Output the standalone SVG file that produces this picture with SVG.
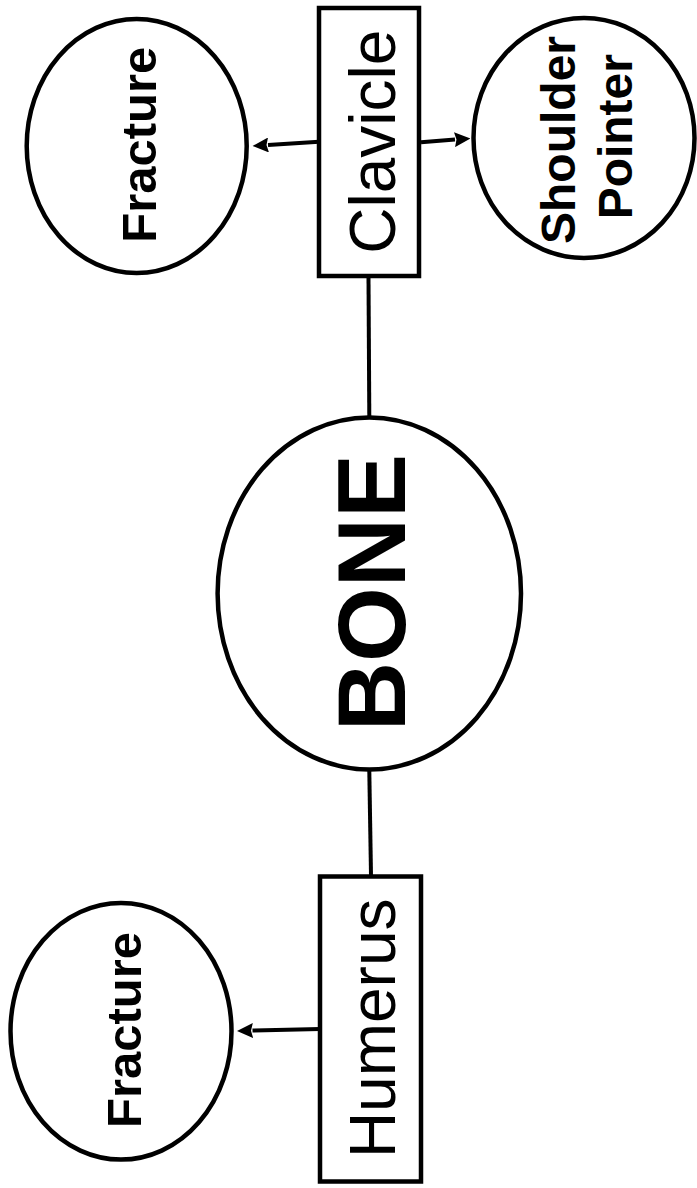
<svg xmlns="http://www.w3.org/2000/svg" width="697" height="1188" viewBox="0 0 697 1188">
  <style>
    .shape { fill: #ffffff; stroke: #000000; stroke-width: 4.5; }
    .conn { fill: none; stroke: #000000; stroke-width: 4; }
    .bold { font-family: "Liberation Sans", Arial, sans-serif; font-weight: bold; fill: #000000; }
    .reg { font-family: "Liberation Sans", Arial, sans-serif; font-weight: normal; fill: #000000; }
  </style>
  <defs>
    <marker id="arrow" viewBox="0 0 16 15" refX="0.5" refY="7.5" markerWidth="16" markerHeight="15" markerUnits="userSpaceOnUse" orient="auto">
      <path d="M0,0 L16,7.5 L0,15 L2,7.5 z" fill="#000000"/>
    </marker>
  </defs>
  <rect x="0" y="0" width="697" height="1188" fill="#ffffff"/>

  <g id="connectors">
    <line class="conn" x1="368.5" y1="278" x2="369.3" y2="416"/>
    <line class="conn" x1="369.3" y1="771" x2="371" y2="875"/>
    <line class="conn" x1="319" y1="141.7" x2="268" y2="145" marker-end="url(#arrow)"/>
    <line class="conn" x1="421" y1="142.2" x2="455" y2="139.6" marker-end="url(#arrow)"/>
    <line class="conn" x1="320" y1="1029" x2="252.5" y2="1030.6" marker-end="url(#arrow)"/>
  </g>

  <g id="node-fracture-top">
    <ellipse class="shape" cx="136.7" cy="146" rx="110" ry="127"/>
    <text class="bold" font-size="49" text-anchor="middle" transform="translate(156,144.7) rotate(-90)">Fracture</text>
  </g>

  <g id="node-clavicle">
    <rect class="shape" x="319" y="8" width="100" height="268"/>
    <text class="reg" font-size="64" text-anchor="middle" transform="translate(394.5,141.7) rotate(-90)">Clavicle</text>
  </g>

  <g id="node-shoulder-pointer">
    <ellipse class="shape" cx="584" cy="138" rx="110.5" ry="120"/>
    <text class="bold" font-size="48" text-anchor="middle" transform="translate(575,140) rotate(-90)">Shoulder</text>
    <text class="bold" font-size="48" text-anchor="middle" transform="translate(632,136.7) rotate(-90)">Pointer</text>
  </g>

  <g id="node-bone">
    <ellipse class="shape" cx="369.3" cy="593.5" rx="151.7" ry="176"/>
    <text class="bold" font-size="96" text-anchor="middle" transform="translate(405,592.6) rotate(-90)">BONE</text>
  </g>

  <g id="node-humerus">
    <rect class="shape" x="320" y="876.5" width="101" height="305"/>
    <text class="reg" font-size="64" text-anchor="middle" transform="translate(395,1028.3) rotate(-90)">Humerus</text>
  </g>

  <g id="node-fracture-bottom">
    <ellipse class="shape" cx="121" cy="1031.3" rx="110.5" ry="128.3"/>
    <text class="bold" font-size="49" text-anchor="middle" transform="translate(141,1030) rotate(-90)">Fracture</text>
  </g>
</svg>
